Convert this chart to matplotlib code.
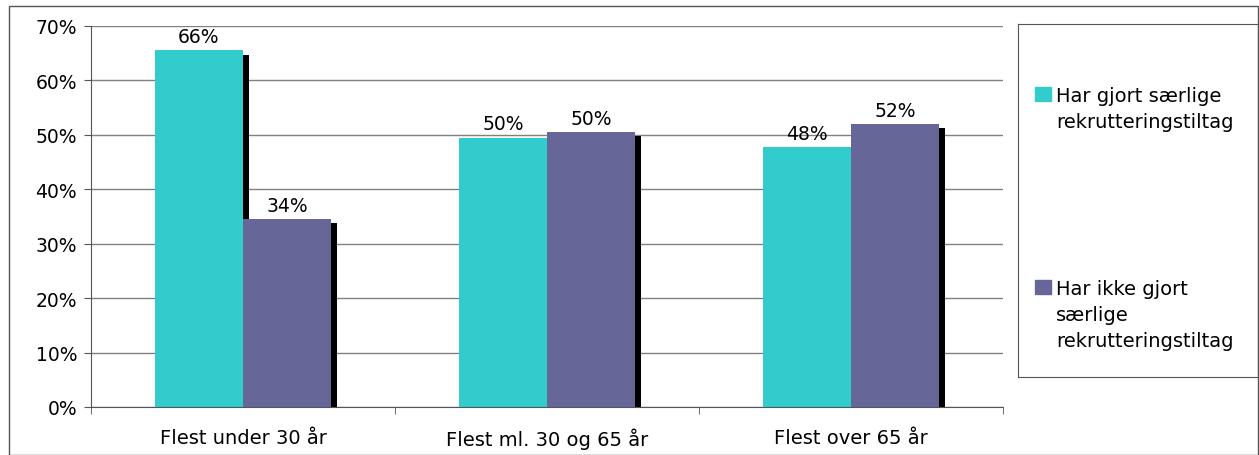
import matplotlib.pyplot as plt
import matplotlib.patheffects as pe
from matplotlib.patches import Rectangle
import numpy as np

categories = ["Flest under 30 år", "Flest ml. 30 og 65 år", "Flest over 65 år"]
series_names = ["Har gjort særlige\nrekrutteringstiltag",
                "Har ikke gjort\nsærlige\nrekrutteringstiltag"]
har_gjort = [65.5, 49.5, 47.8]
har_ikke_gjort = [34.5, 50.5, 52.0]
value_labels = [["66%", "50%", "48%"], ["34%", "50%", "52%"]]
colors = ["#33CCCC", "#666699"]

plt.rcParams["font.family"] = "DejaVu Sans"
plt.rcParams["font.size"] = 13.5

fig = plt.figure(figsize=(12.59, 4.56), dpi=100)
W, H = 1259, 456

# outer border around the chart
fig.patches.append(Rectangle((9 / W, 0), (W - 10) / W, (H - 7) / H,
                             transform=fig.transFigure, fill=False,
                             edgecolor="#555555", linewidth=1.0))

ax = fig.add_axes([91 / W, 1 - 408 / H, (1003 - 91) / W, (408 - 27) / H])

x = np.arange(len(categories))
width = 0.29
shadow = [pe.SimplePatchShadow(offset=(4.5, -3), shadow_rgbFace="black", alpha=1.0),
          pe.Normal()]

bars1 = ax.bar(x - width / 2, har_gjort, width, color=colors[0], zorder=3,
               path_effects=shadow)
bars2 = ax.bar(x + width / 2, har_ikke_gjort, width, color=colors[1], zorder=3,
               path_effects=shadow)

for bars, labels in zip([bars1, bars2], value_labels):
    for b, lab in zip(bars, labels):
        ax.annotate(lab, (b.get_x() + b.get_width() / 2, b.get_height()),
                    xytext=(0, 3), textcoords="offset points",
                    ha="center", va="bottom", fontsize=13.5)

ax.set_xlim(-0.5, len(categories) - 0.5)
ax.set_ylim(0, 70)
ax.set_yticks(np.arange(0, 71, 10))
ax.set_yticklabels([f"{v}%" for v in range(0, 71, 10)])
ax.set_xticks(x)
ax.set_xticklabels(categories, fontsize=14)
ax.tick_params(axis="x", length=0, pad=15)
ax.set_xticks(np.arange(-0.5, len(categories), 1), minor=True)
ax.tick_params(axis="x", which="minor", length=5, color="#555555")
ax.tick_params(axis="y", length=5, color="#555555", pad=5)

ax.grid(axis="y", color="#808080", linewidth=1.0, zorder=0)
ax.set_axisbelow(True)
for s in ["top", "right"]:
    ax.spines[s].set_visible(False)
for s in ["left", "bottom"]:
    ax.spines[s].set_color("#555555")
    ax.spines[s].set_zorder(4)

# legend box, entries drawn by hand so the marker sits on the first line
lx0, ly0, lx1, ly1 = 1018, 25, W - 1, 378
lax = fig.add_axes([lx0 / W, 1 - ly1 / H, (lx1 - lx0) / W, (ly1 - ly0) / H])
lax.set_xlim(lx0, lx1)
lax.set_ylim(ly1, ly0)
lax.set_xticks([])
lax.set_yticks([])
for s in lax.spines.values():
    s.set_color("#555555")

entry_baselines = [102, 295]
line_step = 26
for name, col, base in zip(series_names, colors, entry_baselines):
    lax.add_patch(Rectangle((1035, base - 14), 16, 14, color=col))
    for i, line in enumerate(name.split("\n")):
        lax.text(1056, base + i * line_step, line, va="baseline", ha="left",
                 fontsize=14)

fig.savefig("out.png", dpi=100)
